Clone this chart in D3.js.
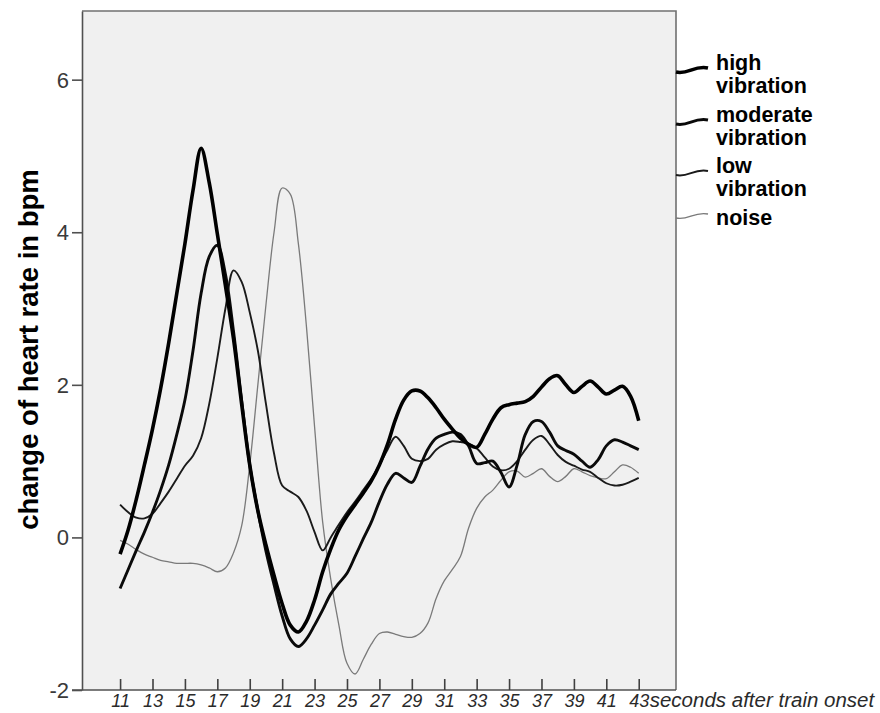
<!DOCTYPE html>
<html>
<head>
<meta charset="utf-8">
<script src="https://cdn.jsdelivr.net/npm/d3@7"></script>
<style>
  html, body { margin: 0; padding: 0; background: #ffffff; }
  svg { display: block; }
</style>
</head>
<body>
<svg id="chart" width="880" height="713"></svg>
<script>
// ---------------- data ----------------
const seconds = [11,11.5,12,12.5,13,13.5,14,14.5,15,15.5,
                 16,16.5,17,17.5,18,18.5,19,19.5,20,20.5,
                 21,21.5,22,22.5,23,23.5,24,24.5,25,25.5,
                 26,26.5,27,27.5,28,28.5,29,29.5,30,30.5,
                 31,31.5,32,32.5,33,33.5,34,34.5,35,35.5,
                 36,36.5,37,37.5,38,38.5,39,39.5,40,40.5,
                 41,41.5,42,42.5,43];

const highVibration = [-0.22,0.1,0.5,0.95,1.42,1.95,2.55,3.2,3.85,4.55,
                       5.1,4.65,3.98,3.3,2.6,1.75,0.95,0.35,-0.1,-0.5,
                       -0.87,-1.15,-1.24,-1.1,-0.82,-0.45,-0.15,0.1,0.28,0.43,
                       0.58,0.74,0.95,1.22,1.55,1.8,1.92,1.92,1.83,1.7,
                       1.55,1.42,1.3,1.22,1.18,1.35,1.55,1.7,1.74,1.76,
                       1.78,1.85,1.97,2.08,2.12,2.0,1.9,1.98,2.05,1.97,
                       1.88,1.93,1.98,1.85,1.53];

const moderateVibration = [-0.67,-0.42,-0.17,0.07,0.33,0.62,0.95,1.35,1.8,2.45,
                           3.2,3.68,3.83,3.45,2.7,1.8,0.95,0.35,-0.18,-0.62,
                           -1.03,-1.33,-1.43,-1.33,-1.15,-0.95,-0.74,-0.6,-0.47,-0.25,
                           -0.02,0.2,0.47,0.7,0.84,0.78,0.72,0.93,1.16,1.3,
                           1.35,1.38,1.35,1.2,0.97,0.98,1.0,0.85,0.66,0.95,
                           1.35,1.52,1.52,1.38,1.2,1.14,1.09,1.0,0.92,1.02,
                           1.2,1.28,1.25,1.2,1.15];

const lowVibration = [0.43,0.33,0.26,0.25,0.31,0.45,0.6,0.77,0.94,1.07,
                      1.3,1.75,2.35,3.0,3.5,3.35,2.95,2.45,1.75,1.1,
                      0.68,0.6,0.53,0.35,0.07,-0.17,0.0,0.17,0.33,0.47,
                      0.62,0.77,0.95,1.15,1.32,1.2,1.03,1.0,1.03,1.15,
                      1.22,1.26,1.25,1.23,1.17,1.05,0.93,0.88,0.9,1.0,
                      1.15,1.28,1.33,1.22,1.08,0.99,0.94,0.89,0.86,0.78,
                      0.71,0.68,0.69,0.73,0.78];

const noise = [-0.04,-0.09,-0.16,-0.22,-0.26,-0.3,-0.32,-0.34,-0.34,-0.34,
               -0.36,-0.4,-0.45,-0.4,-0.2,0.15,0.95,2.0,3.05,4.0,
               4.58,4.5,3.85,2.76,1.45,0.2,-0.55,-1.15,-1.65,-1.79,
               -1.6,-1.4,-1.26,-1.24,-1.27,-1.3,-1.31,-1.26,-1.12,-0.8,
               -0.57,-0.42,-0.25,0.12,0.38,0.53,0.62,0.75,0.86,0.87,
               0.79,0.84,0.9,0.8,0.73,0.8,0.9,0.86,0.81,0.78,
               0.77,0.86,0.95,0.92,0.84];

const seriesNames = ["high\nvibration", "moderate\nvibration", "low\nvibration", "noise"];
const xTickValues = [11,13,15,17,19,21,23,25,27,29,31,33,35,37,39,41,43];
const yTickValues = [-2,0,2,4,6];
const xAxisTitle = "seconds after train onset";
const yAxisTitle = "change of heart rate in bpm";

// ---------------- layout ----------------
const svg = d3.select("#chart");
const plot = { left: 82, right: 676, top: 11, bottom: 690 };
const FONT = "'Liberation Sans', Arial, sans-serif";

const x = d3.scaleLinear().domain([8.65, 45.3]).range([plot.left, plot.right]);
const y = d3.scaleLinear().domain([-2, 6.9]).range([plot.bottom, plot.top]);

// plot background
svg.append("rect")
  .attr("x", plot.left).attr("y", plot.top)
  .attr("width", plot.right - plot.left).attr("height", plot.bottom - plot.top)
  .attr("fill", "#f0f0f0");

// frame top/right
svg.append("path")
  .attr("d", `M${plot.left},${plot.top}H${plot.right}V${plot.bottom}`)
  .attr("fill", "none").attr("stroke", "#707070").attr("stroke-width", 1.6);

// series lines
const styles = [
  { data: highVibration,     width: 3.6, color: "#000000" },
  { data: moderateVibration, width: 2.9, color: "#0a0a0a" },
  { data: lowVibration,      width: 1.9, color: "#1a1a1a" },
  { data: noise,             width: 1.3, color: "#7a7a7a" }
];

const line = d3.line()
  .x(d => x(d[0]))
  .y(d => y(d[1]))
  .curve(d3.curveCatmullRom.alpha(0.5));

const gLines = svg.append("g");
[3, 2, 1, 0].forEach(i => {
  const s = styles[i];
  gLines.append("path")
    .datum(seconds.map((t, k) => [t, s.data[k]]))
    .attr("d", line)
    .attr("fill", "none")
    .attr("stroke", s.color)
    .attr("stroke-width", s.width)
    .attr("stroke-linejoin", "round")
    .attr("stroke-linecap", "butt");
});

// y axis
const yAxis = d3.axisLeft(y).tickValues(yTickValues).tickSize(10).tickSizeOuter(0)
  .tickPadding(3).tickFormat(d => String(d));
const gy = svg.append("g").attr("transform", `translate(${plot.left},0)`).call(yAxis);
gy.select(".domain").attr("stroke", "#505050").attr("stroke-width", 1.6);
gy.selectAll(".tick line").attr("stroke", "#505050").attr("stroke-width", 1.6);
gy.selectAll(".tick text")
  .attr("font-family", FONT)
  .attr("font-size", 22).attr("fill", "#3a3a3a").attr("dy", "0.34em");

// x axis: ticks pointing up into plot, labels below
const xAxis = d3.axisBottom(x).tickValues(xTickValues).tickSize(-11).tickSizeOuter(0)
  .tickFormat(d => String(d));
const gx = svg.append("g").attr("transform", `translate(0,${plot.bottom})`).call(xAxis);
gx.select(".domain").attr("d", `M${plot.left - 10},0H${plot.right}`)
  .attr("stroke", "#505050").attr("stroke-width", 1.6);
gx.selectAll(".tick line").attr("stroke", "#404040").attr("stroke-width", 1.6);
gx.selectAll(".tick text")
  .attr("font-family", FONT)
  .attr("font-style", "italic")
  .attr("font-size", 18).attr("fill", "#2a2a2a")
  .attr("y", 17).attr("dy", null);

// x axis title
svg.append("text")
  .attr("x", x(43) + 11).attr("y", 707)
  .attr("font-family", FONT)
  .attr("font-style", "italic").attr("font-size", 20.5).attr("fill", "#2a2a2a")
  .text(xAxisTitle);

// y axis title
svg.append("text")
  .attr("transform", `translate(38,${(168 + 531) / 2}) rotate(-90)`)
  .attr("text-anchor", "middle")
  .attr("font-family", FONT)
  .attr("font-weight", "bold").attr("font-size", 27.5).attr("fill", "#000")
  .text(yAxisTitle);

// legend
const legendY = [70, 122, 173, 216];
const gLeg = svg.append("g");
seriesNames.forEach((name, i) => {
  const ly = legendY[i];
  const s = styles[i];
  gLeg.append("path")
    .attr("d", `M${plot.right},${ly + 2} C${plot.right + 12},${ly + 5} ${plot.right + 18},${ly - 5} ${plot.right + 32},${ly - 2}`)
    .attr("fill", "none").attr("stroke", s.color).attr("stroke-width", s.width);
  const lines = name.split("\n");
  const t = gLeg.append("text")
    .attr("font-family", FONT)
    .attr("font-weight", "bold").attr("font-size", 21.5).attr("fill", "#000");
  lines.forEach((ln, k) => {
    t.append("tspan").attr("x", 716).attr("y", ly + (i === 3 ? 9 : 0) + k * 23).text(ln);
  });
});
</script>
</body>
</html>
